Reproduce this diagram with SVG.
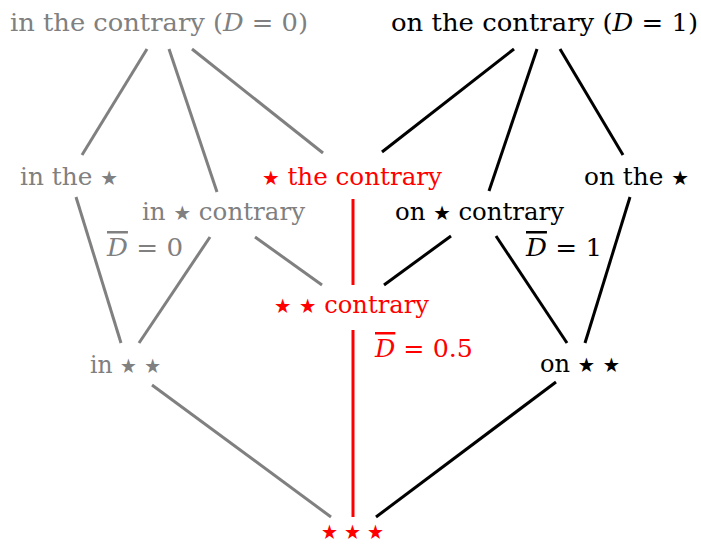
<svg xmlns="http://www.w3.org/2000/svg" width="701" height="544" viewBox="0 0 701 544">
<style>
text{font-family:'DejaVu Serif',serif;font-size:25px}
.g{fill:#808080}.k{fill:#000}.r{fill:#ff0000}
.s{font-family:'DejaVu Sans',sans-serif;font-size:20px}
.i{font-style:italic}
.ol{text-decoration:overline}
line{stroke-width:3;fill:none}
.lg{stroke:#808080}.lk{stroke:#000}.lr{stroke:#ff0000}
</style>
<rect width="701" height="544" fill="#fff"/>
<g id="connectors">
<line class="lg" x1="147" y1="49" x2="82" y2="155"/>
<line class="lg" x1="169" y1="49" x2="217" y2="192"/>
<line class="lg" x1="192" y1="49" x2="323" y2="153"/>
<line class="lg" x1="76" y1="197" x2="121" y2="343"/>
<line class="lg" x1="210" y1="237" x2="139" y2="343"/>
<line class="lg" x1="255" y1="237" x2="322" y2="285"/>
<line class="lg" x1="152" y1="385" x2="331" y2="517"/>
<line class="lk" x1="514" y1="49" x2="382" y2="152"/>
<line class="lk" x1="537" y1="49" x2="489" y2="191"/>
<line class="lk" x1="560" y1="49" x2="623" y2="155"/>
<line class="lk" x1="630" y1="197" x2="585" y2="343"/>
<line class="lk" x1="496" y1="236" x2="567" y2="343"/>
<line class="lk" x1="451" y1="236" x2="384" y2="285"/>
<line class="lk" x1="556" y1="382" x2="376" y2="517"/>
<line class="lr" x1="353" y1="199" x2="353" y2="285"/>
<line class="lr" x1="353" y1="330" x2="353" y2="517"/>
</g>
<g id="n-in-the-contrary"><text class="g" x="10" y="31" textLength="298" lengthAdjust="spacingAndGlyphs">in the contrary (<tspan class="i">D</tspan> = 0)</text></g>
<g id="n-on-the-contrary"><text class="k" x="391" y="31" textLength="307" lengthAdjust="spacingAndGlyphs">on the contrary (<tspan class="i">D</tspan> = 1)</text></g>
<g id="n-in-the-star"><text class="g" x="20" y="185" textLength="98" lengthAdjust="spacingAndGlyphs">in the <tspan class="s">★</tspan></text></g>
<g id="n-star-the-contrary"><text class="r" x="262" y="185" textLength="180" lengthAdjust="spacingAndGlyphs"><tspan class="s">★</tspan> the contrary</text></g>
<g id="n-on-the-star"><text class="k" x="584" y="185" textLength="105" lengthAdjust="spacingAndGlyphs">on the <tspan class="s">★</tspan></text></g>
<g id="n-in-star-contrary"><text class="g" x="142" y="220" textLength="163" lengthAdjust="spacingAndGlyphs">in <tspan class="s">★</tspan> contrary</text></g>
<g id="n-on-star-contrary"><text class="k" x="395" y="220" textLength="169" lengthAdjust="spacingAndGlyphs">on <tspan class="s">★</tspan> contrary</text></g>
<g id="n-star-star-contrary"><text class="r" x="274" y="313" textLength="155" lengthAdjust="spacingAndGlyphs"><tspan class="s">★</tspan> <tspan class="s">★</tspan> contrary</text></g>
<g id="n-in-star-star"><text class="g" x="90" y="373" textLength="71" lengthAdjust="spacingAndGlyphs">in <tspan class="s">★</tspan> <tspan class="s">★</tspan></text></g>
<g id="n-on-star-star"><text class="k" x="540" y="372" textLength="80" lengthAdjust="spacingAndGlyphs">on <tspan class="s">★</tspan> <tspan class="s">★</tspan></text></g>
<g id="n-star-star-star"><text class="r s" x="321" y="539" textLength="63" lengthAdjust="spacingAndGlyphs" style="font-size:20px">★ ★ ★</text></g>
<g id="labels">
<text class="g" x="107" y="256" textLength="76" lengthAdjust="spacingAndGlyphs"><tspan class="i ol">D</tspan> = 0</text>
<text class="k" x="526" y="256" textLength="76" lengthAdjust="spacingAndGlyphs"><tspan class="i ol">D</tspan> = 1</text>
<text class="r" x="375" y="357" textLength="98" lengthAdjust="spacingAndGlyphs"><tspan class="i ol">D</tspan> = 0.5</text>
</g>
</svg>
